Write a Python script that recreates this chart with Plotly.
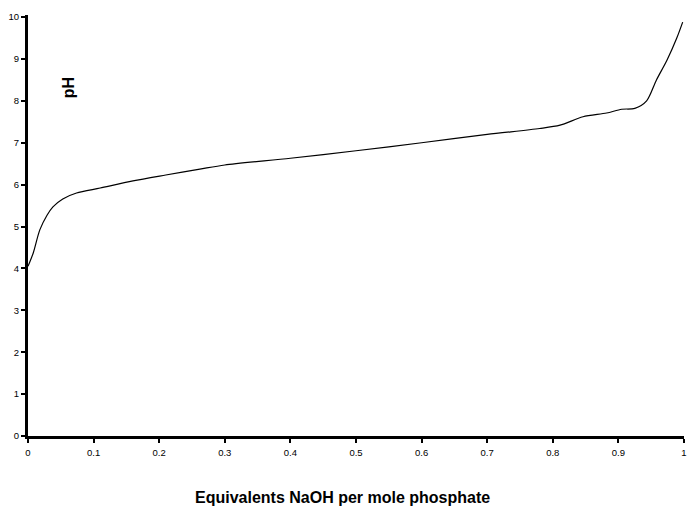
import plotly.graph_objects as go

# Titration curve
equiv_naoh = [0.0, 0.008, 0.018, 0.029, 0.038, 0.053, 0.074, 0.11, 0.16, 0.21, 0.262,
              0.3, 0.4, 0.5, 0.6, 0.7, 0.78, 0.811, 0.846, 0.882, 0.905, 0.925,
              0.943, 0.958, 0.974, 0.989, 0.998]
ph_values = [4.05, 4.37, 4.92, 5.27, 5.47, 5.66, 5.8, 5.92, 6.09, 6.23, 6.37,
             6.47, 6.63, 6.81, 7.0, 7.2, 7.34, 7.42, 7.62, 7.71, 7.8, 7.82,
             8.0, 8.5, 8.97, 9.5, 9.88]

x_ticks = [0, 0.1, 0.2, 0.3, 0.4, 0.5, 0.6, 0.7, 0.8, 0.9, 1]
x_tick_labels = ["0", "0.1", "0.2", "0.3", "0.4", "0.5", "0.6", "0.7", "0.8", "0.9", "1"]
y_ticks = [0, 1, 2, 3, 4, 5, 6, 7, 8, 9, 10]

x_title = "Equivalents NaOH per mole phosphate"
y_title = "pH"

fig = go.Figure()
fig.add_trace(go.Scatter(
    x=equiv_naoh, y=ph_values, mode="lines",
    line=dict(color="black", width=1.2, shape="spline", smoothing=0.8),
    showlegend=False, hoverinfo="skip",
))

axis_common = dict(
    showline=True, linecolor="black", linewidth=3,
    ticks="outside", ticklen=4, tickwidth=2, tickcolor="black",
    showgrid=False, zeroline=False, automargin=False,
    ticklabeloverflow="allow",
    tickfont=dict(family="Arial, Liberation Sans, sans-serif", size=9.5, color="black"),
)

fig.update_xaxes(range=[0, 1], tickvals=x_ticks, ticktext=x_tick_labels,
                 ticklabelstandoff=2, **axis_common)
fig.update_yaxes(range=[0, 10.05], tickvals=y_ticks, **axis_common)

fig.add_annotation(
    text=f"<b>{x_title}</b>", xref="paper", yref="paper", x=0.479, y=0,
    yanchor="middle", xanchor="center", yshift=-61, showarrow=False,
    font=dict(family="Arial, Liberation Sans, sans-serif", size=16, color="black"),
)
fig.add_annotation(
    text=f"<b>{y_title}</b>", xref="paper", yref="paper", x=0.061, y=0.826,
    xanchor="center", yanchor="middle", textangle=-90, showarrow=False,
    font=dict(family="Arial, Liberation Sans, sans-serif", size=16, color="black"),
)

fig.update_layout(
    width=687, height=510,
    margin=dict(l=28, r=3, t=15, b=74),
    plot_bgcolor="white", paper_bgcolor="white",
)

fig.write_html(
    "out.html",
    config={"displayModeBar": False},
    post_script="document.body.style.margin='0';document.body.style.overflow='hidden';",
)
